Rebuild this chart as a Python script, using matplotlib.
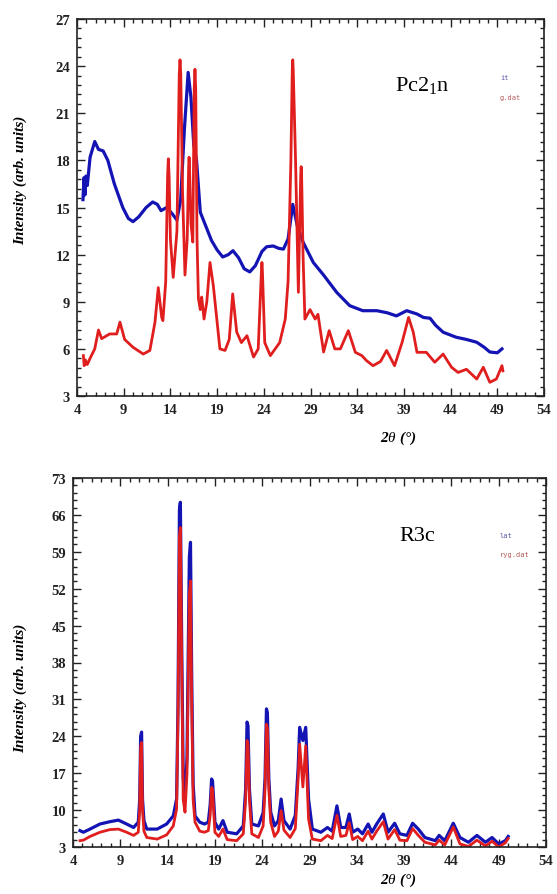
import matplotlib
matplotlib.use('Agg')
import matplotlib.pyplot as plt
import numpy as np

plt.rcParams['font.family'] = ['Liberation Serif', 'DejaVu Serif']
plt.rcParams['mathtext.fontset'] = 'custom'
plt.rcParams['mathtext.rm'] = 'Liberation Serif'
plt.rcParams['mathtext.it'] = 'Liberation Serif:italic'

# ---- top panel (Pc2_1n) ----
pc_blue_x = [4.64, 4.75, 4.85, 4.95, 5.1, 5.4, 5.9, 6.3, 6.8, 7.3, 8.0, 8.9, 9.5, 10.0,
             10.6, 11.4, 12.1, 12.6, 13.0, 13.6, 14.2, 14.7, 15.1, 15.5, 15.9, 16.2,
             16.5, 16.8, 17.2, 17.8, 18.4, 19.0, 19.6, 20.2, 20.7, 21.3, 21.9, 22.5,
             23.1, 23.8, 24.3, 25.0, 25.6, 26.1, 26.6, 27.1, 27.6, 28.2, 29.3, 30.4,
             31.8, 33.2, 34.6, 36.1, 37.2, 38.2, 39.3, 40.4, 41.1, 41.8, 42.4, 43.2,
             44.6, 45.7, 46.8, 47.6, 48.2, 49.0, 49.5]
pc_blue_y = [15.5, 16.9, 15.8, 17.0, 16.4, 18.2, 19.2, 18.7, 18.6, 18.0, 16.5, 15.0, 14.3, 14.1,
             14.4, 15.0, 15.35, 15.2, 14.8, 15.0, 14.6, 14.2, 15.5, 20.0, 23.6, 22.0,
             19.0, 18.0, 14.7, 13.8, 12.9, 12.3, 11.85, 12.0, 12.25, 11.8, 11.1, 10.9,
             11.3, 12.2, 12.5, 12.55, 12.4, 12.35, 13.0, 15.2, 13.8, 12.8, 11.5, 10.7,
             9.6, 8.75, 8.43, 8.43, 8.3, 8.1, 8.43, 8.22, 8.0, 7.95, 7.5, 7.06,
             6.74, 6.6, 6.42, 6.1, 5.8, 5.75, 6.0]

pc_red_x = [4.68, 4.77, 4.9, 5.1, 5.4, 5.9, 6.3, 6.64, 7.5, 8.25, 8.6, 9.1, 10.0, 11.1,
            11.8, 12.35, 12.7, 13.07, 13.2, 13.5, 13.7, 13.78, 13.86, 14.0, 14.3, 14.7,
            14.95, 15.03, 15.11, 15.3, 15.56, 15.8, 15.95, 16.0, 16.05, 16.2, 16.4, 16.55,
            16.63, 16.71, 16.85, 17.0, 17.2, 17.35, 17.6, 17.9, 18.24, 18.6, 19.3, 19.85,
            20.3, 20.67, 21.1, 21.6, 22.2, 22.9, 23.4, 23.75, 23.8, 23.85, 24.1, 24.7,
            25.7, 26.3, 26.6, 26.9, 27.05, 27.1, 27.15, 27.4, 27.7, 27.95, 28.0, 28.05,
            28.2, 28.4, 28.95, 29.5, 29.8, 30.4, 31.0, 31.6, 32.2, 33.05, 33.8, 34.5,
            35.0, 35.7, 36.5, 37.15, 38.0, 38.8, 39.5, 40.0, 40.4, 41.4, 42.3, 43.2,
            44.1, 44.8, 45.7, 46.8, 47.5, 48.2, 48.9, 49.5, 49.6]
pc_red_y = [5.57, 4.93, 5.3, 5.0, 5.4, 6.0, 7.2, 6.65, 6.95, 6.95, 7.7, 6.6, 6.1, 5.67,
            5.9, 7.7, 9.9, 8.0, 7.8, 10.3, 17.0, 18.1, 17.0, 13.0, 10.55, 13.5,
            23.5, 24.4, 23.5, 16.0, 10.7, 13.0, 17.5, 18.2, 17.5, 14.0, 12.8, 22.5,
            23.8, 22.5, 13.0, 9.2, 8.5, 9.3, 7.9, 9.0, 11.5, 10.0, 6.0, 5.9,
            6.6, 9.5, 7.07, 6.4, 6.84, 5.48, 6.0, 11.0, 11.5, 11.0, 6.4, 5.57,
            6.4, 7.9, 10.3, 18.0, 23.8, 24.4, 23.8, 18.0, 9.6, 17.0, 17.6, 17.0,
            12.0, 7.9, 8.5, 7.9, 8.2, 5.8, 7.16, 6.0, 6.0, 7.16, 5.78, 5.57,
            5.25, 4.93, 5.2, 5.9, 4.93, 6.4, 8.0, 7.07, 5.78, 5.78, 5.15, 5.67,
            4.83, 4.5, 4.7, 4.08, 4.83, 3.87, 4.08, 4.93, 4.6]

# ---- bottom panel (R3c) ----
r3c_x = [4.74, 5.1, 5.8, 6.85, 7.9, 8.8, 9.67, 10.4, 10.9, 11.05, 11.15, 11.25, 11.35, 11.5,
         11.8, 12.9, 13.9, 14.6, 14.95, 15.1, 15.25, 15.35, 15.5, 15.65, 15.84, 16.05,
         16.3, 16.42, 16.55, 16.7, 16.9, 17.4, 17.9, 18.3, 18.5, 18.65, 18.75, 18.9,
         19.0, 19.4, 19.85, 20.3, 21.3, 22.0, 22.25, 22.4, 22.5, 22.65, 22.9, 23.6,
         24.1, 24.3, 24.45, 24.55, 24.7, 24.9, 25.3, 25.7, 26.0, 26.3, 26.95, 27.5,
         27.8, 27.96, 28.3, 28.6, 28.9, 29.3, 30.2, 30.9, 31.4, 31.9, 32.3, 32.85,
         33.2, 33.56, 34.1, 34.6, 35.2, 35.6, 36.1, 36.8, 37.3, 38.0, 38.55, 39.3,
         39.9, 40.5, 41.2, 42.3, 42.7, 43.3, 44.2, 44.9, 45.8, 46.7, 47.6, 48.3,
         49.0, 49.7, 50.0]
r3c_blue = [6.1, 5.8, 6.4, 7.36, 7.8, 8.1, 7.36, 6.7, 7.7, 12.0, 24.0, 24.8, 12.0, 8.0,
            6.4, 6.4, 7.36, 8.9, 12.1, 30.0, 67.0, 68.4, 40.0, 16.0, 12.7, 20.0,
            58.0, 60.8, 35.0, 15.0, 8.9, 7.7, 7.36, 7.7, 11.0, 15.9, 15.5, 11.0,
            7.7, 6.4, 8.0, 5.8, 5.5, 7.0, 14.0, 26.7, 26.0, 14.0, 7.36, 7.0,
            9.5, 16.0, 29.2, 28.5, 16.0, 9.6, 7.0, 8.0, 12.1, 8.0, 6.4, 9.0,
            18.0, 25.7, 23.2, 25.7, 12.1, 6.4, 5.8, 6.7, 6.0, 10.8, 6.7, 6.7,
            9.26, 5.8, 6.4, 5.5, 7.36, 5.8, 7.36, 9.26, 5.8, 7.5, 5.5, 5.2,
            7.5, 6.4, 4.8, 4.2, 5.2, 4.2, 7.5, 4.8, 3.9, 5.2, 3.9, 4.8,
            3.57, 4.2, 5.0]
r3c_red = [4.2, 4.3, 5.0, 5.8, 6.3, 6.4, 5.8, 5.2, 5.8, 10.0, 22.0, 22.8, 10.0, 6.0,
           4.8, 4.5, 5.3, 7.0, 10.2, 28.0, 62.0, 63.6, 36.0, 12.0, 9.6, 17.0,
           51.0, 53.5, 30.0, 12.0, 7.7, 6.0, 5.8, 6.1, 9.0, 14.3, 14.0, 9.0,
           5.8, 5.0, 6.4, 4.4, 4.2, 5.5, 12.0, 23.2, 22.5, 12.0, 5.5, 4.8,
           7.0, 14.0, 26.3, 25.5, 14.0, 7.7, 5.0, 6.0, 9.9, 6.2, 4.8, 6.5,
           16.0, 22.5, 14.4, 22.2, 8.3, 4.5, 4.2, 5.2, 4.6, 9.0, 5.0, 5.2,
           7.6, 4.4, 5.0, 4.2, 6.0, 4.5, 6.0, 7.8, 4.5, 6.3, 4.3, 4.2,
           6.5, 5.2, 3.9, 3.4, 4.3, 3.4, 6.8, 3.6, 3.1, 4.3, 3.2, 4.1,
           3.0, 3.8, 4.6]

blue = '#1414b4'
red = '#e01e1e'

fig = plt.figure(figsize=(5.57, 8.95), dpi=100)
W, H = 557.0, 895.0


def style_axes(ax, ymin, ymax, ystep):
    ax.set_xlim(4, 54)
    ax.set_ylim(ymin, ymax)
    ax.set_xticks(np.arange(4, 55, 5))
    ax.set_xticks(np.arange(4, 54.01, 1), minor=True)
    ax.set_yticks(np.arange(ymin, ymax + 0.01, ystep))
    ax.set_yticks(np.arange(ymin, ymax + 0.01, ystep / 5), minor=True)
    ax.tick_params(which='both', direction='in', top=True, right=True,
                   labelsize=10.5, width=1, colors='#222222')
    ax.tick_params(which='major', length=6, pad=5)
    ax.tick_params(which='minor', length=3)
    for lab in ax.get_xticklabels() + ax.get_yticklabels():
        lab.set_fontweight('bold')
    for sp in ax.spines.values():
        sp.set_linewidth(1.2)
        sp.set_color('#222222')


ax1 = fig.add_axes([77 / W, 1 - 397 / H, 467 / W, 377 / H])
ax1.plot(pc_blue_x, pc_blue_y, color=blue, lw=2.3)
ax1.plot(pc_red_x, pc_red_y, color=red, lw=2.0)
style_axes(ax1, 3, 27, 3)
ax1.text(422 / W, 1 - 85 / H, r'Pc2$_{\mathrm{1}}$n', transform=fig.transFigure,
         fontsize=16, ha='center', va='center')
ax1.text(500 / W, 1 - 78 / H, 'it', transform=fig.transFigure, family='DejaVu Sans Mono',
         fontsize=5, color='#5a5aa8', va='center')
ax1.text(500 / W, 1 - 98 / H, 'g.dat', transform=fig.transFigure, family='DejaVu Sans Mono',
         fontsize=5, color='#b45a5a', va='center')

ax2 = fig.add_axes([73 / W, 1 - 848 / H, 473 / W, 369 / H])
ax2.plot(r3c_x, r3c_blue, color=blue, lw=2.3)
ax2.plot(r3c_x, r3c_red, color=red, lw=2.0)
style_axes(ax2, 3, 73, 7)
ax2.text(417 / W, 1 - 537 / H, 'R3c', transform=fig.transFigure,
         fontsize=16, ha='center', va='center')
ax2.text(500 / W, 1 - 536 / H, 'lat', transform=fig.transFigure, family='DejaVu Sans Mono',
         fontsize=5, color='#5a5aa8', va='center')
ax2.text(500 / W, 1 - 555 / H, 'ryg.dat', transform=fig.transFigure, family='DejaVu Sans Mono',
         fontsize=5, color='#b45a5a', va='center')

# axis titles, placed like in the original figure
for ytxt, xtxt in [(180, 438), (688, 880)]:
    fig.text(20 / W, 1 - ytxt / H, 'Intensity (arb. units)', rotation=90,
             fontsize=11, fontweight='bold', style='italic', ha='center', va='center')
    fig.text(398 / W, 1 - xtxt / H, r'2$\theta$ (°)', fontsize=11, fontweight='bold',
             style='italic', ha='center', va='center')

fig.savefig('out.png', dpi=100)
